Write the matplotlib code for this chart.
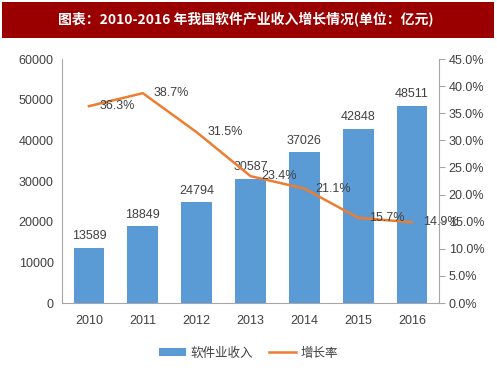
import matplotlib
matplotlib.use("Agg")
import matplotlib.pyplot as plt
from matplotlib.patches import Rectangle

plt.rcParams['font.family'] = ['Liberation Sans', 'Noto Sans CJK SC', 'DejaVu Sans']

years = ['2010', '2011', '2012', '2013', '2014', '2015', '2016']
revenue = [13589, 18849, 24794, 30587, 37026, 42848, 48511]
growth = [36.3, 38.7, 31.5, 23.4, 21.1, 15.7, 14.9]
left_ticks = [0, 10000, 20000, 30000, 40000, 50000, 60000]
right_ticks = [0, 5, 10, 15, 20, 25, 30, 35, 40, 45]
title = '图表：2010-2016 年我国软件产业收入增长情况(单位：亿元)'

bar_color = '#5B9BD5'
line_color = '#ED7D31'
text_color = '#404040'
spine_color = '#A6A6A6'

fig = plt.figure(figsize=(4.97, 3.78), dpi=100)
fig.patches.append(Rectangle((0.004, 1 - 38/378), 0.99, 36/378, transform=fig.transFigure,
                             facecolor='#9B0000', edgecolor='none', zorder=0))
fig.text(0.495, 1 - 20/378, title, color='white', fontsize=10, fontweight='bold',
         ha='center', va='center', family=['Noto Sans CJK SC', 'DejaVu Sans'])

ax = fig.add_axes([62/497, 1 - 303/378, (439-62)/497, (303-59)/378])
x = list(range(len(years)))
bars = ax.bar(x, revenue, width=0.57, color=bar_color, label='软件业收入', zorder=2)
ax.set_xlim(-0.5, len(years) - 0.5)
ax.set_ylim(0, 60000)
ax.set_yticks(left_ticks)
ax.set_yticklabels([str(v) for v in left_ticks])
ax.set_xticks(x)
ax.set_xticklabels(years)
ax.tick_params(axis='both', length=0, labelsize=9, colors=text_color, pad=6)
ax.tick_params(axis='x', pad=9)
for s in ['top', 'right']:
    ax.spines[s].set_visible(False)
for s in ['left', 'bottom']:
    ax.spines[s].set_color(spine_color)
for xi, v in zip(x, revenue):
    ax.annotate(str(v), (xi, v), xytext=(0, 4), textcoords='offset points',
                ha='center', va='bottom', fontsize=9, color=text_color, zorder=5)

ax2 = ax.twinx()
line, = ax2.plot(x, growth, color=line_color, lw=1.8, label='增长率', zorder=3)
ax2.set_ylim(0, 45)
ax2.set_yticks(right_ticks)
ax2.set_yticklabels(['%.1f%%' % v for v in right_ticks])
ax2.tick_params(axis='y', length=4, color=spine_color, labelsize=9, colors=text_color, pad=3)
ax2.tick_params(axis='y', color=spine_color)
for s in ['top', 'left', 'bottom']:
    ax2.spines[s].set_visible(False)
ax2.spines['right'].set_color(spine_color)
for xi, g in zip(x, growth):
    ax2.annotate('%.1f%%' % g, (xi, g), xytext=(8, 0), textcoords='offset points',
                 ha='left', va='center', fontsize=9, color=text_color, zorder=6)

fig.legend([bars, line], ['软件业收入', '增长率'], loc='center', bbox_to_anchor=(0.5, 1 - 353/378),
           ncol=2, frameon=False, fontsize=9, handlelength=2.2, handleheight=0.6,
           columnspacing=1.2, handletextpad=0.4,
           prop={'family': ['Noto Sans CJK SC', 'DejaVu Sans'], 'size': 9})
for t in fig.legends[0].get_texts():
    t.set_color(text_color)

fig.savefig('out.png', dpi=100)
